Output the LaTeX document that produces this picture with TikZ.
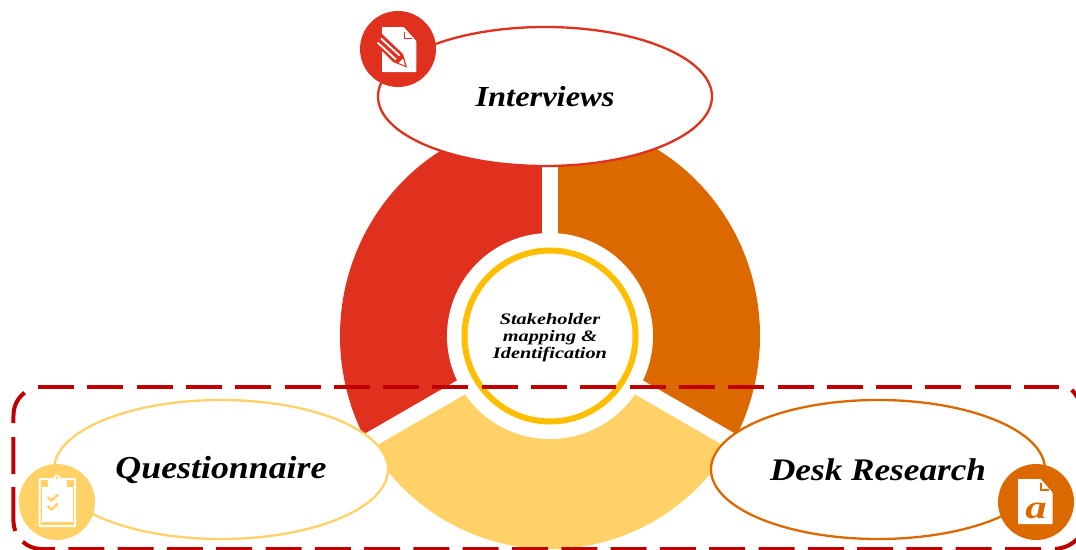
\documentclass[tikz,border=0pt]{standalone}
\usepackage{fontspec}
\setmainfont{Liberation Serif}
\newfontfamily\labelfont[FakeStretch=1.12]{Liberation Serif}
\newfontfamily\smalllabelfont[FakeStretch=1.27]{Liberation Serif}
\newfontfamily\glyphfont[FakeStretch=1.3]{Liberation Serif}
\usetikzlibrary{shapes.geometric}
\definecolor{cred}{HTML}{E0301E}
\definecolor{corange}{HTML}{DC6900}
\definecolor{cyellow}{HTML}{FFD166}
\definecolor{cring}{HTML}{FFBF00}
\definecolor{cdash}{HTML}{C00000}
\tikzset{
  oval/.style={ellipse,draw,fill=white,line width=2.3pt,minimum width=334pt,minimum height=139pt,inner sep=0pt},
  iconbg/.style={circle,minimum size=76pt,inner sep=0pt},
  big/.style={font=\labelfont\bfseries\itshape\fontsize{#1}{32}\selectfont},
  small/.style={font=\smalllabelfont\bfseries\itshape\fontsize{16}{17}\selectfont,align=center},
  gapline/.style={white,line width=16pt},
  dashline/.style={cdash,line width=4pt},
}
\begin{document}
\begin{tikzpicture}[x=1pt,y=-1pt]
\useasboundingbox (0,0) rectangle (1076,549);
\coordinate (c) at (550,336);
% donut
\fill[cred] (c) -- (550,119) arc[start angle=-90,end angle=-210,x radius=210,y radius=217] -- cycle;
\fill[corange] (c) -- (550,119) arc[start angle=-90,end angle=30,x radius=210,y radius=217] -- cycle;
\fill[cyellow] (c) -- (731.9,442.5) arc[start angle=30,end angle=150,x radius=210,y radius=213] -- cycle;
\draw[gapline] (c) -- (550,120);
\draw[gapline] (c) -- (745,448.6);
\draw[gapline] (c) -- (355,448.6);
\node[circle,fill=white,minimum size=206pt,inner sep=0pt] (hole) at (c) {};
\node[circle,draw=cring,line width=6pt,fill=white,minimum size=171pt,inner sep=0pt] (centre) at (c) {};
\node[small,inner sep=0pt] (centrelabel) at (550,337.5) {Stakeholder\\mapping \&\\Identification};
% dashed frame
\draw[dashline,dash pattern=on 36pt off 13.3pt] (38,387) -- (1059,387);
\draw[dashline] (1071.7,390) .. controls (1074,392) and (1076,395) .. (1079,400);
\draw[dashline,dash pattern=on 36pt off 13.3pt] (1041,549) -- (41.5,549) arc[start angle=90,end angle=132,radius=28];
\draw[dashline] (1055,549) .. controls (1065,548) and (1072,545) .. (1079,537);
\draw[dashline,dash pattern=on 44pt off 13pt on 37pt off 14pt on 40pt] (15.3,531) arc[start angle=159,end angle=180,radius=28] -- (13.5,415) arc[start angle=180,end angle=233,radius=28];
% ovals
\node[oval,draw=cred,big=29] (interviews) at (545,96.5) {Interviews};
\node[oval,draw=cyellow,big=32] (quest) at (221,469.5) {Questionnaire};
\node[oval,draw=corange,big=31.4] (desk) at (878,469.5) {Desk Research};
% icons
\node[iconbg,fill=cred] (i1) at (398,49) {};
\node[iconbg,fill=cyellow] (i2) at (57,502) {};
\node[iconbg,fill=corange] (i3) at (1036,502) {};
% interview icon
\fill[white,rounded corners=0.7pt] (382,27) -- (403.7,27) -- (416.3,41) -- (416.3,72) -- (382,72) -- cycle;
\draw[cred,line width=1.8pt] (404.5,31.5) -- (404.5,38.5) -- (412,38.5);
\fill[cred] (375,44) -- (382,34) -- (403,54) -- (407,67.5) -- (393,62) -- cycle;
\draw[white,line width=1.8pt] (377.5,42.5) -- (396,59.5);
\draw[white,line width=1.8pt] (381,38.5) -- (399.5,55.5);
\fill[white] (398.5,63) -- (403,58.5) -- (405,65.5) -- cycle;
% clipboard icon
\draw[white,line width=2pt,rounded corners=0.8pt] (39.5,479) rectangle (75,526);
\draw[white,line width=1.6pt,fill=white] (43,488) rectangle (72,521.5);
\fill[white] (48,477.5) rectangle (66.5,488);
\fill[white] (57,478) circle[radius=3.3];
\fill[cyellow] (57,478) circle[radius=1.3];
\draw[cyellow,line width=2.4pt] (47.5,497) -- (51.5,500.5) -- (58,494.5);
\draw[cyellow,line width=2.4pt] (47.5,506) -- (51.5,509.5) -- (58,503.5);
% desk icon
\fill[white,rounded corners=0.7pt] (1018,479) -- (1040.7,479) -- (1052.7,492.7) -- (1052.7,524) -- (1018,524) -- cycle;
\draw[corange,line width=1.8pt] (1041.2,483.3) -- (1041.2,490) -- (1048.5,490);
\node[text=corange,font=\glyphfont\bfseries\itshape\fontsize{33}{33}\selectfont,inner sep=0pt,anchor=base] (aglyph) at (1036,518) {a};
\end{tikzpicture}
\end{document}
